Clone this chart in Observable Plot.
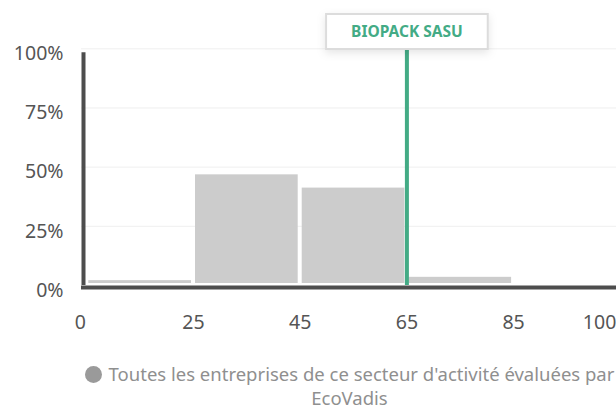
<!DOCTYPE html>
<html>
<head>
<meta charset="utf-8">
<script src="https://cdn.jsdelivr.net/npm/d3@7"></script>
<script src="https://cdn.jsdelivr.net/npm/@observablehq/plot@0.6"></script>
<style>
  html, body { margin: 0; padding: 0; background: #fff; }
  body { width: 616px; height: 411px; overflow: hidden; font-family: "Noto Sans", sans-serif; }
  #chart { position: relative; }
  #legend { margin-left: 80px; width: 539px; text-align: center; color: #8f8f8f; font-size: 18.5px; line-height: 24px; margin-top: 22px; white-space: nowrap; }
  #legend .dot { display: inline-block; width: 17px; height: 17px; border-radius: 50%; background: #9a9a9a; vertical-align: -2px; margin-right: 7px; }
</style>
</head>
<body>
<div id="chart"></div>
<div id="legend"><span class="dot"></span><span id="lg1"></span><br><span id="lg2"></span></div>
<script>
// ---- data ----
const binEdges = ["0", "25", "45", "65", "85", "100"];          // x tick labels (bin boundaries)
const shares = [2.9, 47.6, 42.0, 4.3, 0];                         // % of companies per bin
const yTicks = [0, 25, 50, 75, 100];                              // y tick values (%)
const companyName = "BIOPACK SASU";
const companyEdge = "65";                                         // company marker position
const legendLine1 = "Toutes les entreprises de ce secteur d'activité évaluées par";
const legendLine2 = "EcoVadis";

const bars = shares.map((v, i) => ({x1: i, x2: i + 1, y: v}));
const edgeIdx = binEdges.map((d, i) => ({label: d, i}));
const markerIdx = binEdges.indexOf(companyEdge);

const green = "#43ab85";
const axisColor = "#4d4d4d";
const labelColor = "#555555";
const fs = 19.5;

const chart = Plot.plot({
  width: 616,
  height: 340,
  marginLeft: 81,
  marginRight: 0,
  marginTop: 48.3,
  marginBottom: 55,
  style: {fontFamily: "Noto Sans", fontSize: fs + "px", background: "#fff", overflow: "visible"},
  x: {domain: [0, binEdges.length - 1], range: [86.3, 619.8], axis: null},
  y: {domain: [0, 100], axis: null},
  marks: [
    Plot.ruleY(yTicks.filter(d => d > 0), {stroke: "#efefef", strokeWidth: 1}),
    Plot.rectY(bars, {x1: "x1", x2: "x2", y: "y", fill: "#cccccc", inset: 2}),
    Plot.ruleX([markerIdx], {y1: 0, y2: 100, stroke: green, strokeWidth: 4}),
    Plot.ruleY([0], {stroke: axisColor, strokeWidth: 4, dy: 2}),
    Plot.ruleX([0], {y1: 0, y2: 100, stroke: axisColor, strokeWidth: 4, dx: -3.3, insetBottom: -4}),
    Plot.axisY({ticks: yTicks, tickFormat: d => d + "%", tickSize: 0, tickPadding: 18, dy: 5, fill: labelColor, fontSize: fs, label: null}),
    Plot.text(edgeIdx.filter(d => d.i > 0 && d.i < binEdges.length - 1), {x: "i", text: "label", frameAnchor: "bottom", lineAnchor: "middle", dy: 37, fill: labelColor, fontSize: fs}),
    Plot.text(edgeIdx.filter(d => d.i === 0), {x: "i", text: "label", frameAnchor: "bottom", lineAnchor: "middle", dy: 37, textAnchor: "end", dx: -1, fill: labelColor, fontSize: fs}),
    Plot.text(edgeIdx.filter(d => d.i === binEdges.length - 1), {x: "i", text: "label", frameAnchor: "bottom", lineAnchor: "middle", dy: 37, textAnchor: "end", dx: -4, fill: labelColor, fontSize: fs}),
    Plot.text([companyName], {x: markerIdx, frameAnchor: "top", lineAnchor: "middle", dy: -17, text: d => d, fill: green, fontWeight: "bold", fontSize: 15.5, className: "company-label"})
  ]
});
document.getElementById("chart").appendChild(chart);
document.getElementById("lg1").textContent = legendLine1;
document.getElementById("lg2").textContent = legendLine2;

// white box with border behind the company label
const g = chart.querySelector("g.company-label");
const t = g && g.querySelector("text");
if (t) {
  const sr = chart.getBoundingClientRect();
  const tr = t.getBoundingClientRect();
  const padX = 25;
  const rect = document.createElementNS("http://www.w3.org/2000/svg", "rect");
  rect.setAttribute("x", tr.left - sr.left - padX);
  rect.setAttribute("width", tr.width + 2 * padX);
  rect.setAttribute("y", 14);
  rect.setAttribute("height", 35);
  rect.setAttribute("fill", "#fff");
  rect.setAttribute("stroke", "#dcdcdc");
  rect.setAttribute("stroke-width", 2);
  rect.setAttribute("style", "filter: drop-shadow(0px 3px 4px rgba(0,0,0,0.10))");
  chart.insertBefore(rect, g);
}
</script>
</body>
</html>
